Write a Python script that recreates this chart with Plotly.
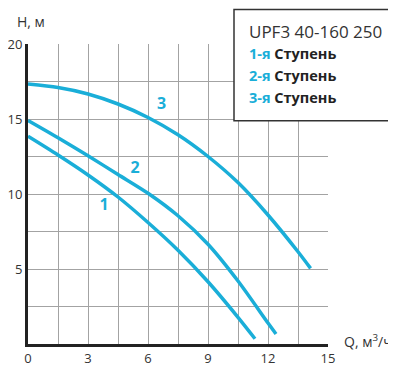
import plotly.graph_objects as go

# Data
q1 = [0, 1.5, 3, 4.5, 6, 7.5, 9, 10.5, 11.35]
h1 = [13.85, 12.6, 11.27, 9.8, 8.1, 6.25, 4.15, 1.78, 0.35]
q2 = [0, 1.5, 3, 4.5, 6, 7.5, 9, 10.5, 12, 12.4]
h2 = [14.9, 13.75, 12.55, 11.3, 10.05, 8.55, 6.65, 4.2, 1.4, 0.67]
q3 = [0, 1.5, 3, 4.5, 6, 7.5, 9, 10.5, 12, 13.5, 14.13]
h3 = [17.33, 17.1, 16.67, 16.0, 15.1, 13.95, 12.5, 10.76, 8.6, 6.15, 5.04]

curve_labels = ["1", "2", "3"]
label_q = [3.8, 5.35, 6.68]
label_h = [9.2, 11.7, 15.95]

x_ticks = [0, 1.5, 3, 4.5, 6, 7.5, 9, 10.5, 12, 13.5, 15]
x_text = ["0", " ", "3", " ", "6", " ", "9", " ", "12", " ", "15"]
y_ticks = [0, 2.5, 5, 7.5, 10, 12.5, 15, 17.5, 20]
y_text = [" ", " ", "5", " ", "10", " ", "15", " ", "20"]

title = "UPF3 40-160 250"
legend_nums = ["1-я", "2-я", "3-я"]
legend_word = "Ступень"

CYAN = "#1aaed8"
FONT = "Open Sans"

fig = go.Figure()
for q, h in [(q1, h1), (q2, h2), (q3, h3)]:
    fig.add_trace(go.Scatter(x=q, y=h, mode="lines",
                             line=dict(color=CYAN, width=3.5, shape="spline", smoothing=0.8),
                             hoverinfo="skip", showlegend=False))

fig.add_trace(go.Scatter(x=label_q, y=label_h, mode="text", text=curve_labels,
                         textfont=dict(color=CYAN, size=16, family=FONT, weight="bold"),
                         hoverinfo="skip", showlegend=False))

# the page body adds an 8px offset, so margins are reduced by 8px on left/top
fig.update_layout(
    width=396, height=365,
    margin=dict(l=20, r=76, t=36, b=29),
    paper_bgcolor="white", plot_bgcolor="white",
    font=dict(family=FONT, color="#333333", size=13),
    xaxis=dict(range=[0, 15], tickmode="array", tickvals=x_ticks, ticktext=x_text,
               showgrid=True, gridcolor="#a3a3a3", gridwidth=1.3, zeroline=False,
               showline=True, linecolor="#222222", linewidth=3, mirror=False,
               ticks="", automargin=False,
               tickfont=dict(size=13, color="#333333")),
    yaxis=dict(range=[0, 20], tickmode="array", tickvals=y_ticks, ticktext=y_text,
               showgrid=True, gridcolor="#a3a3a3", gridwidth=1.3, zeroline=False,
               showline=True, linecolor="#222222", linewidth=3, mirror=False,
               ticks="", automargin=False,
               tickfont=dict(size=13, color="#333333")),
)

# legend box
fig.add_shape(type="rect", xref="paper", yref="paper",
              x0=(234 - 28) / 300, x1=(410 - 28) / 300,
              y0=(344 - 120.7) / 300, y1=(344 - 9.5) / 300,
              line=dict(color="#333333", width=1.5), fillcolor="white", layer="above")

lx = (247 - 28) / 300
fig.add_annotation(xref="paper", yref="paper", x=lx, y=(344 - 31.5) / 300,
                   xanchor="left", yanchor="middle", showarrow=False,
                   text=title, font=dict(size=17, color="#333333", family=FONT))
for i, n in enumerate(legend_nums):
    py = 53.5 + i * 22
    fig.add_annotation(xref="paper", yref="paper", x=lx, y=(344 - py) / 300,
                       xanchor="left", yanchor="middle", showarrow=False,
                       text=f"<span style='color:{CYAN}'><b>{n}</b></span> <b>{legend_word}</b>",
                       font=dict(size=14.5, color="#222222", family=FONT))

# axis titles
fig.add_annotation(xref="paper", yref="paper", x=(15 - 28) / 300, y=(344 - 21) / 300,
                   xanchor="left", yanchor="middle", showarrow=False,
                   text="H, м", font=dict(size=14, color="#333333", family=FONT))
fig.add_annotation(xref="paper", yref="paper", x=(342 - 28) / 300, y=(344 - 341) / 300,
                   xanchor="left", yanchor="middle", showarrow=False,
                   text="Q, м<sup>3</sup>/ч", font=dict(size=14, color="#333333", family=FONT))

fig.write_html("out.html")
